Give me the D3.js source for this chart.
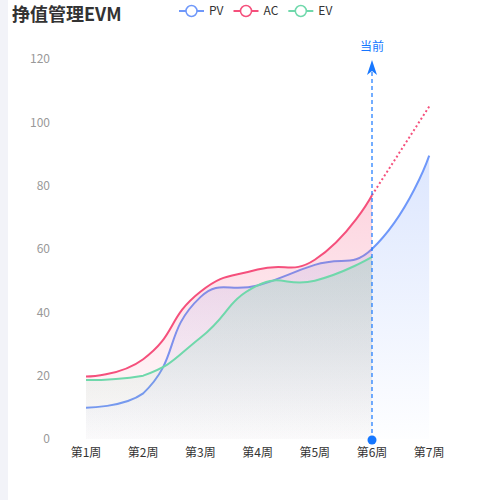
<!DOCTYPE html>
<html>
<head>
<meta charset="utf-8">
<script src="https://cdn.jsdelivr.net/npm/d3@7"></script>
<style>
  html, body { margin: 0; padding: 0; background: #fff; }
  svg { display: block; font-family: "Noto Sans CJK SC", "Noto Sans", sans-serif; }
</style>
</head>
<body>
<div id="chart"></div>
<script>
// data
const weeks = ['第1周', '第2周', '第3周', '第4周', '第5周', '第6周', '第7周'];
const pvValues = [9.9, 14.4, 44.8, 48.5, 55, 60, 89.5];
const acValues = [19.7, 25.2, 46.5, 53.5, 56.6, 77]; // actual cost up to now
const acForecast = [77, 105];                          // week 6 -> week 7, dotted
const evValues = [18.6, 20, 32, 48.5, 50, 57.5];
const yTicks = [0, 20, 40, 60, 80, 100, 120];
const seriesNames = ['PV', 'AC', 'EV'];
const seriesColors = ['#6f98fa', '#f5507c', '#6fd8ab'];
const currentWeek = '第6周';

const width = 500, height = 500;

const x = d3.scalePoint().domain(weeks).range([86, 429.2]);
const y = d3.scaleLinear().domain([0, 120]).range([439, 59]);

// line smoothing in the style of the original chart lib (smooth = 0.5, bbox constraint)
class SmoothLine {
  constructor(context) { this._context = context; }
  areaStart() { this._line = 0; }
  areaEnd() { this._line = NaN; }
  lineStart() { this._pts = []; }
  point(px, py) { this._pts.push([+px, +py]); }
  lineEnd() {
    const p = this._pts, ctx = this._context, s = 0.5;
    if (p.length) {
      const lo = [d3.min(p, d => d[0]), d3.min(p, d => d[1])];
      const hi = [d3.max(p, d => d[0]), d3.max(p, d => d[1])];
      const clamp = c => [Math.max(lo[0], Math.min(hi[0], c[0])), Math.max(lo[1], Math.min(hi[1], c[1]))];
      if (this._line) ctx.lineTo(p[0][0], p[0][1]); else ctx.moveTo(p[0][0], p[0][1]);
      let cp0 = p[0].slice();
      for (let i = 1; i < p.length; i++) {
        const cur = p[i], prev = p[i - 1], next = p[i + 1];
        let cp1 = cur.slice(), v = [0, 0], ratio = 0.5;
        if (next) {
          v = [next[0] - prev[0], next[1] - prev[1]];
          const l0 = Math.hypot(cur[0] - prev[0], cur[1] - prev[1]);
          const l1 = Math.hypot(next[0] - cur[0], next[1] - cur[1]);
          ratio = l1 / (l0 + l1);
          cp1 = [cur[0] - v[0] * s * (1 - ratio), cur[1] - v[1] * s * (1 - ratio)];
        }
        const a = clamp(cp0), b = clamp(cp1);
        ctx.bezierCurveTo(a[0], a[1], b[0], b[1], cur[0], cur[1]);
        cp0 = [cur[0] + v[0] * s * ratio, cur[1] + v[1] * s * ratio];
      }
    }
    if (this._line === 1) this._context.closePath();
    this._line = 1 - this._line;
  }
}
const smoothCurve = context => new SmoothLine(context);

const svg = d3.select('#chart').append('svg')
  .attr('width', width)
  .attr('height', height);

// grey strip on the left edge
svg.append('rect').attr('x', 0).attr('y', 0).attr('width', 8).attr('height', height).attr('fill', '#f2f3f8');

const defs = svg.append('defs');
const gradStops = [[0.24, 0.01], [0.24, 0.02], [0.26, 0.02]];
seriesNames.forEach((name, i) => {
  const g = defs.append('linearGradient').attr('id', 'grad-' + name)
    .attr('x1', 0).attr('y1', 0).attr('x2', 0).attr('y2', 1);
  g.append('stop').attr('offset', 0).attr('stop-color', seriesColors[i]).attr('stop-opacity', gradStops[i][0]);
  g.append('stop').attr('offset', 1).attr('stop-color', seriesColors[i]).attr('stop-opacity', gradStops[i][1]);
});

// title
svg.append('text')
  .attr('x', 12).attr('y', 21)
  .attr('font-size', 18).attr('font-weight', 'bold').attr('fill', '#333')
  .text('挣值管理EVM');

// y axis labels (no axis line, no grid)
svg.append('g')
  .selectAll('text')
  .data(yTicks)
  .enter()
  .append('text')
  .attr('x', 50)
  .attr('y', d => y(d))
  .attr('dy', '0.35em')
  .attr('text-anchor', 'end')
  .attr('font-size', 12)
  .attr('fill', '#999')
  .text(d => d);

// x axis labels
svg.append('g')
  .selectAll('text')
  .data(weeks)
  .enter()
  .append('text')
  .attr('x', d => x(d))
  .attr('y', 453)
  .attr('dy', '0.35em')
  .attr('text-anchor', 'middle')
  .attr('font-size', 12)
  .attr('fill', '#333')
  .text(d => d);

const area = d3.area()
  .x((d, i) => x(weeks[i]))
  .y0(y(0))
  .y1(d => y(d))
  .curve(smoothCurve);
const line = d3.line()
  .x((d, i) => x(weeks[i]))
  .y(d => y(d))
  .curve(smoothCurve);

const seriesData = [pvValues, acValues, evValues];
const plot = svg.append('g');
seriesData.forEach((vals, i) => {
  plot.append('path')
    .attr('d', area(vals))
    .attr('fill', 'url(#grad-' + seriesNames[i] + ')');
  plot.append('path')
    .attr('d', line(vals))
    .attr('fill', 'none')
    .attr('stroke', seriesColors[i])
    .attr('stroke-width', 2);
});

// AC forecast, dotted
const forecastLine = d3.line()
  .x((d, i) => x(weeks[acValues.length - 1 + i]))
  .y(d => y(d));
plot.append('path')
  .attr('d', forecastLine(acForecast))
  .attr('fill', 'none')
  .attr('stroke', seriesColors[1])
  .attr('stroke-width', 2)
  .attr('stroke-dasharray', '2,2.5');

// current week marker
const cx = x(currentWeek);
const marker = svg.append('g').attr('fill', '#1677ff');
marker.append('line')
  .attr('x1', cx).attr('x2', cx)
  .attr('y1', 72).attr('y2', y(0))
  .attr('stroke', '#1677ff')
  .attr('stroke-width', 1.2)
  .attr('stroke-dasharray', '4,3');
marker.append('path')
  .attr('d', `M${cx},60 L${cx - 5},75 L${cx},71 L${cx + 5},75 Z`);
marker.append('circle').attr('cx', cx).attr('cy', y(0) + 1).attr('r', 4.5);
marker.append('text')
  .attr('x', cx).attr('y', 47)
  .attr('dy', '0.35em')
  .attr('text-anchor', 'middle')
  .attr('font-size', 12)
  .text('当前');

// legend
const legend = svg.append('g');
let lx = 179;
seriesNames.forEach((name, i) => {
  const item = legend.append('g').attr('transform', `translate(${lx},11)`);
  item.append('line')
    .attr('x1', 0).attr('x2', 25)
    .attr('stroke', seriesColors[i]).attr('stroke-width', 2);
  item.append('circle')
    .attr('cx', 12.5).attr('r', 5.5)
    .attr('fill', '#fff').attr('stroke', seriesColors[i]).attr('stroke-width', 1.5);
  const t = item.append('text')
    .attr('x', 30).attr('dy', '0.35em')
    .attr('font-size', 12).attr('fill', '#333')
    .text(name);
  lx += 30 + t.node().getComputedTextLength() + 10;
});
</script>
</body>
</html>
